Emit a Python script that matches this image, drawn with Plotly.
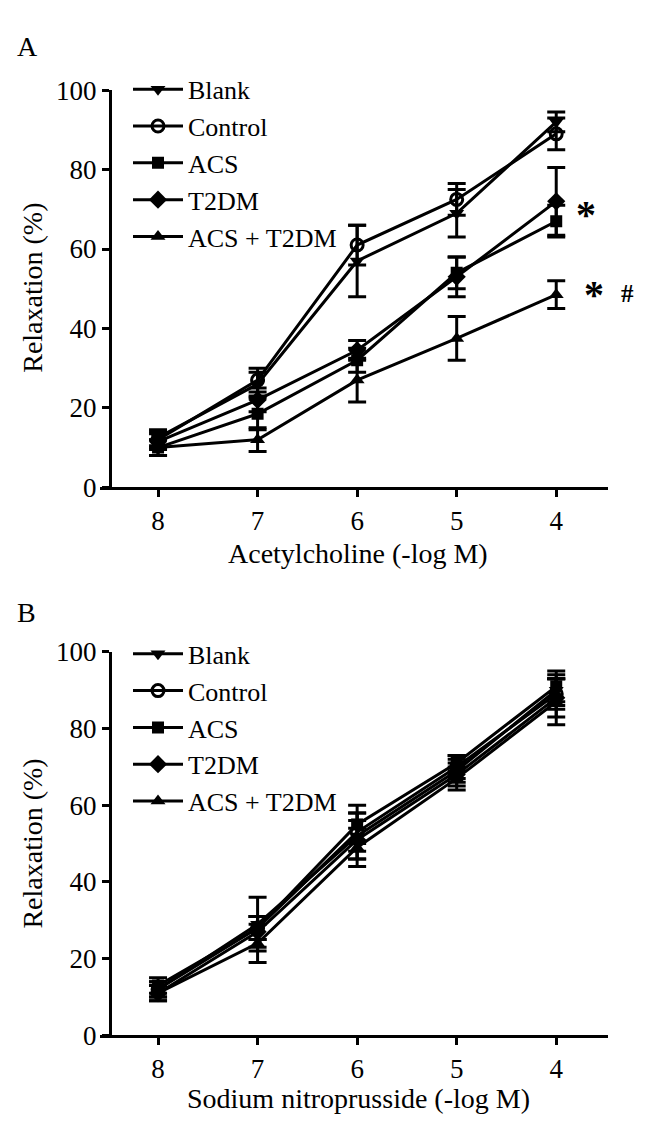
import plotly.graph_objects as go

# ---------------- data ----------------
doses = [8, 7, 6, 5, 4]
tick_labels = ["8", "7", "6", "5", "4"]
y_ticks = [0, 20, 40, 60, 80, 100]
series_names = ["Blank", "Control", "ACS", "T2DM", "ACS + T2DM"]

# Panel A: Acetylcholine
a_blank = [12.5, 26, 57, 69, 92]
a_blank_err = [2, 3, 9, 6, 2.5]
a_control = [12, 27, 61, 72.5, 89]
a_control_err = [2, 3, 5, 4, 4]
a_acs = [10, 18.5, 32, 54, 67]
a_acs_err = [2, 4, 3, 4, 4]
a_t2dm = [11.5, 22, 34.5, 53, 72]
a_t2dm_err = [2, 3, 2.5, 5, 8.5]
a_acs_t2dm = [10, 12, 27, 37.5, 48.5]
a_acs_t2dm_err = [2, 3, 5.5, 5.5, 3.5]

# Panel B: Sodium nitroprusside
b_blank = [12, 29, 52, 69, 90]
b_blank_err = [2, 7, 6, 3, 4]
b_control = [12, 28, 53, 70, 89]
b_control_err = [2, 3, 5, 3, 4]
b_acs = [13, 28, 55, 71, 91]
b_acs_err = [2, 3, 5, 2, 4]
b_t2dm = [11, 27, 51, 68, 88]
b_t2dm_err = [2, 4, 5, 3, 5]
b_acs_t2dm = [11, 24, 49, 67, 87]
b_acs_t2dm_err = [2, 5, 5, 3, 6]

symbols = ["triangle-down", "circle-open", "square", "diamond", "triangle-up"]
sizes = [13, 12, 12, 14, 13]

W, H = 646, 1129
FONT = "Liberation Serif"

panel_a = [(a_blank, a_blank_err), (a_control, a_control_err), (a_acs, a_acs_err),
           (a_t2dm, a_t2dm_err), (a_acs_t2dm, a_acs_t2dm_err)]
panel_b = [(b_blank, b_blank_err), (b_control, b_control_err), (b_acs, b_acs_err),
           (b_t2dm, b_t2dm_err), (b_acs_t2dm, b_acs_t2dm_err)]

fig = go.Figure()

for panel, xa, ya, leg in [(panel_a, "x", "y", "legend"), (panel_b, "x2", "y2", "legend2")]:
    for name, (vals, errs), sym, sz in zip(series_names, panel, symbols, sizes):
        fig.add_trace(go.Scatter(
            x=doses, y=vals, name=name, mode="lines+markers",
            xaxis=xa, yaxis=ya, legend=leg,
            line=dict(color="black", width=3),
            marker=dict(symbol=sym, size=sz, color="black",
                        line=dict(color="black", width=3 if sym.endswith("open") else 0)),
            error_y=dict(type="data", array=errs, visible=True,
                         color="black", thickness=3, width=9),
        ))


def px_x(p):
    return p / W


def px_y(p):
    return 1 - p / H


x_dom = [px_x(92), px_x(600)]
x_range = [8.583, 3.48]
axis_common = dict(showline=True, linewidth=3, linecolor="black", ticks="outside",
                   ticklen=7, tickwidth=3, tickcolor="black", showgrid=False,
                   zeroline=False, tickfont=dict(family=FONT, size=27, color="black"))

fig.update_layout(
    width=W, height=H, margin=dict(l=0, r=0, t=0, b=0),
    paper_bgcolor="white", plot_bgcolor="white",
    xaxis=dict(domain=x_dom, range=x_range, tickvals=doses, ticktext=tick_labels,
               anchor="y", **axis_common),
    yaxis=dict(domain=[px_y(477), px_y(69)], range=[0, 100], tickvals=y_ticks,
               anchor="free", position=px_x(102), **axis_common),
    xaxis2=dict(domain=x_dom, range=x_range, tickvals=doses, ticktext=tick_labels,
                anchor="y2", **axis_common),
    yaxis2=dict(domain=[px_y(1040), px_y(646)], range=[0, 100], tickvals=y_ticks,
                anchor="free", position=px_x(102), **axis_common),
    legend=dict(x=px_x(120), y=px_y(44), xanchor="left", yanchor="top",
                bgcolor="rgba(0,0,0,0)", itemwidth=50,
                font=dict(family=FONT, size=26, color="black")),
    legend2=dict(x=px_x(120), y=px_y(624), xanchor="left", yanchor="top",
                 bgcolor="rgba(0,0,0,0)", itemwidth=50,
                 font=dict(family=FONT, size=26, color="black")),
    showlegend=True,
)

tfont = dict(family=FONT, size=28, color="black")
ann = [
    dict(text="Acetylcholine (-log M)", x=px_x(350), y=px_y(545)),
    dict(text="Sodium nitroprusside (-log M)", x=px_x(350), y=px_y(1105)),
    dict(text="Relaxation (%)", x=px_x(25), y=px_y(272), textangle=-90),
    dict(text="Relaxation (%)", x=px_x(25), y=px_y(843), textangle=-90),
    dict(text="A", x=px_x(19), y=px_y(24)),
    dict(text="B", x=px_x(18), y=px_y(606)),
]
for a in ann:
    fig.add_annotation(xref="paper", yref="paper", showarrow=False,
                       xanchor="center", yanchor="middle", font=tfont, **a)

fig.add_annotation(text="<b>*</b>", xref="paper", yref="paper", x=px_x(590), y=px_y(172),
                   showarrow=False, font=dict(family=FONT, size=40, color="black"))
fig.add_annotation(text="<b>*</b>", xref="paper", yref="paper", x=px_x(598), y=px_y(254),
                   showarrow=False, font=dict(family=FONT, size=40, color="black"))
fig.add_annotation(text="<b>#</b>", xref="paper", yref="paper", x=px_x(628), y=px_y(262),
                   showarrow=False, font=dict(family=FONT, size=25, color="black"))

fig.write_html("out.html")
